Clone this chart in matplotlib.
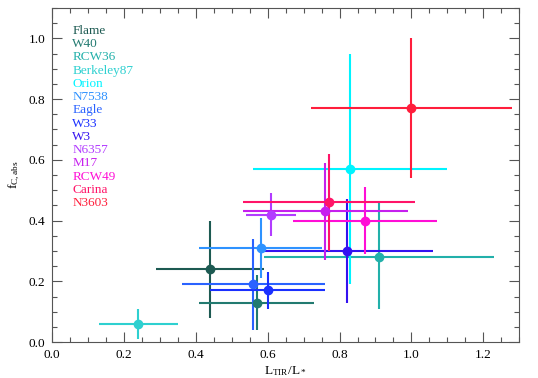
import numpy as np
import matplotlib.pyplot as plt
from matplotlib.ticker import MultipleLocator

# regions, in legend order
names = ["Flame", "W40", "RCW36", "Berkeley87", "Orion", "N7538", "Eagle",
         "W33", "W3", "N6357", "M17", "RCW49", "Carina", "N3603"]
colors = ["#1d5a52", "#227a70", "#22b0aa", "#2ed0d0", "#00f4ff", "#2e92ff",
          "#2a62ff", "#1a30ff", "#3412f0", "#b23cff", "#c620ee", "#ff0ed6",
          "#ff1468", "#ff1e3c"]

# L_TIR/L_* and f_C,abs with lower/upper bounds
ltir = [0.44, 0.57, 0.91, 0.24, 0.83, 0.58, 0.56, 0.60, 0.82, 0.61, 0.76, 0.87, 0.77, 1.00]
ltir_lo = [0.29, 0.41, 0.59, 0.13, 0.56, 0.41, 0.36, 0.44, 0.58, 0.54, 0.53, 0.67, 0.53, 0.72]
ltir_hi = [0.59, 0.73, 1.23, 0.35, 1.10, 0.75, 0.76, 0.76, 1.06, 0.68, 0.99, 1.07, 1.01, 1.28]
fc = [0.24, 0.13, 0.28, 0.06, 0.57, 0.31, 0.19, 0.17, 0.30, 0.42, 0.43, 0.40, 0.46, 0.77]
fc_lo = [0.08, 0.04, 0.11, 0.01, 0.19, 0.21, 0.04, 0.11, 0.13, 0.35, 0.27, 0.29, 0.30, 0.54]
fc_hi = [0.40, 0.22, 0.46, 0.11, 0.95, 0.41, 0.34, 0.23, 0.47, 0.49, 0.59, 0.51, 0.62, 1.00]

plt.rcParams['font.family'] = ['Liberation Serif', 'DejaVu Serif']
plt.rcParams['mathtext.fontset'] = 'custom'
plt.rcParams['mathtext.rm'] = 'Liberation Serif'
plt.rcParams['mathtext.it'] = 'Liberation Serif:italic'

fig = plt.figure(figsize=(5.38, 3.78), dpi=100)
ax = fig.add_axes([0.097, 0.095, 0.868, 0.884])

for i in range(len(names)):
    xe = [[ltir[i] - ltir_lo[i]], [ltir_hi[i] - ltir[i]]]
    ye = [[fc[i] - fc_lo[i]], [fc_hi[i] - fc[i]]]
    ax.errorbar([ltir[i]], [fc[i]], xerr=xe, yerr=ye, fmt='o', color=colors[i],
                ms=6, elinewidth=1.5, capsize=0)
    ax.text(0.043, 0.931 - i * 0.0396, names[i], color=colors[i], fontsize=9.5,
            transform=ax.transAxes, va='center', ha='left')

ax.set_xlim(0, 1.3)
ax.set_ylim(0, 1.1)
ax.xaxis.set_major_locator(MultipleLocator(0.2))
ax.xaxis.set_minor_locator(MultipleLocator(0.05))
ax.yaxis.set_major_locator(MultipleLocator(0.2))
ax.yaxis.set_minor_locator(MultipleLocator(0.05))
ax.tick_params(which='both', direction='in', top=True, right=True, colors='#555555',
               labelcolor='black', labelsize=9.5)
ax.tick_params(which='major', length=7, width=0.8, pad=5)
ax.tick_params(which='minor', length=3.5, width=0.8)
for s in ax.spines.values():
    s.set_color('#555555')
    s.set_linewidth(0.8)
ax.xaxis.set_major_formatter(plt.FormatStrFormatter('%.1f'))
ax.yaxis.set_major_formatter(plt.FormatStrFormatter('%.1f'))

ax.set_xlabel(r'L$_{\rm TIR}$/L$_*$', fontsize=9.5, labelpad=2)
ax.set_ylabel(r'f$_{\rm C,abs}$', fontsize=9.5, labelpad=5)

plt.savefig('out.png', dpi=100)
